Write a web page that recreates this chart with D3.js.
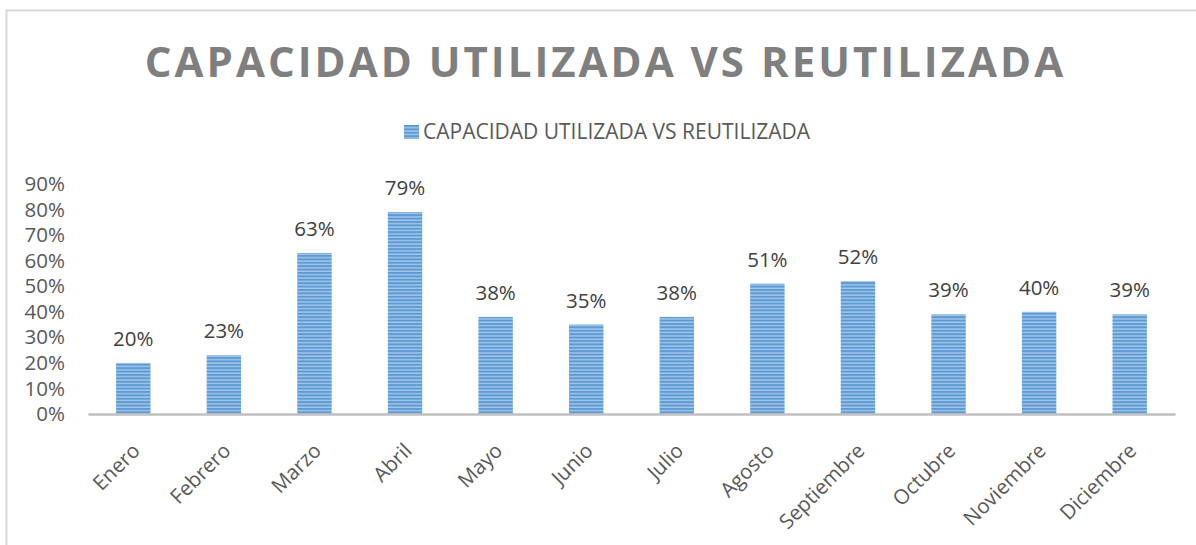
<!DOCTYPE html>
<html>
<head>
<meta charset="utf-8">
<script src="https://cdn.jsdelivr.net/npm/d3@7"></script>
<style>
  body { margin: 0; background: #fff; }
  svg { display: block; font-family: "Open Sans", sans-serif; }
</style>
</head>
<body>
<svg id="chart" width="1196" height="545"></svg>
<script>
const width = 1196;
const height = 545;

// Data
const months = ['Enero', 'Febrero', 'Marzo', 'Abril', 'Mayo', 'Junio', 'Julio', 'Agosto', 'Septiembre', 'Octubre', 'Noviembre', 'Diciembre'];
const values = [0.20, 0.23, 0.63, 0.79, 0.38, 0.35, 0.38, 0.51, 0.52, 0.39, 0.40, 0.39];
const yTicks = [0, 0.1, 0.2, 0.3, 0.4, 0.5, 0.6, 0.7, 0.8, 0.9];
const seriesName = 'CAPACIDAD UTILIZADA VS REUTILIZADA';
const chartTitle = 'CAPACIDAD UTILIZADA VS REUTILIZADA';

const svg = d3.select('#chart');
const margin = { top: 184, right: 21, bottom: 131, left: 88 };

// striped fill for the bars
const defs = svg.append('defs');
const pat = defs.append('pattern')
  .attr('id', 'stripes')
  .attr('patternUnits', 'userSpaceOnUse')
  .attr('width', 6).attr('height', 3.4);
pat.append('rect').attr('width', 6).attr('height', 3.4).attr('fill', '#a7c6e8');
pat.append('rect').attr('width', 6).attr('height', 2).attr('fill', '#5b9bd5');

// outer frame
svg.append('rect')
  .attr('x', 6.5).attr('y', 10.5)
  .attr('width', width + 20).attr('height', height + 20)
  .attr('fill', 'none')
  .attr('stroke', '#d9d9d9')
  .attr('stroke-width', 2);

// Title
svg.append('text')
  .attr('x', 605.5).attr('y', 77)
  .attr('text-anchor', 'middle')
  .attr('font-size', 42)
  .attr('font-weight', 700)
  .attr('letter-spacing', 3)
  .attr('fill', '#7f7f7f')
  .text(chartTitle);

// Legend
const legend = svg.append('g').attr('transform', 'translate(404,125)');
legend.append('rect')
  .attr('width', 15).attr('height', 14)
  .attr('fill', 'url(#stripes)');
legend.append('text')
  .attr('x', 19).attr('y', 14)
  .attr('font-size', 21)
  .attr('fill', '#595959')
  .text(seriesName);

const x = d3.scaleBand()
  .domain(months)
  .range([margin.left, width - margin.right])
  .paddingInner(0.62)
  .paddingOuter(0.31);

const y = d3.scaleLinear()
  .domain([0, 0.9])
  .range([height - margin.bottom, margin.top]);

// Y axis labels
const yAxis = d3.axisLeft(y)
  .tickValues(yTicks)
  .tickFormat(d3.format('.0%'))
  .tickSize(0)
  .tickPadding(0);

svg.append('g')
  .attr('transform', 'translate(65,0)')
  .call(yAxis)
  .call(g => g.select('.domain').remove())
  .selectAll('text')
  .attr('font-size', 20.5)
  .attr('font-family', '"Open Sans", sans-serif')
  .attr('fill', '#595959');

// Bars
svg.append('g')
  .selectAll('rect')
  .data(values)
  .enter().append('rect')
  .attr('x', (d, i) => x(months[i]))
  .attr('y', d => y(d))
  .attr('width', x.bandwidth())
  .attr('height', d => y(0) - y(d))
  .attr('fill', 'url(#stripes)');

// Data labels
svg.append('g')
  .selectAll('text')
  .data(values)
  .enter().append('text')
  .attr('x', (d, i) => x(months[i]) + x.bandwidth() / 2)
  .attr('y', d => y(d) - 17)
  .attr('text-anchor', 'middle')
  .attr('font-size', 20.5)
  .attr('fill', '#404040')
  .text(d => d3.format('.0%')(d));

// X axis
const xAxis = d3.axisBottom(x).tickSize(0).tickPadding(0);
svg.append('g')
  .attr('transform', `translate(0,${y(0)})`)
  .call(xAxis)
  .call(g => g.select('.domain')
    .attr('stroke', '#bfbfbf')
    .attr('stroke-width', 2.5))
  .selectAll('text')
  .attr('font-size', 20.5)
  .attr('font-family', '"Open Sans", sans-serif')
  .attr('fill', '#595959')
  .attr('text-anchor', 'end')
  .attr('dy', null)
  .attr('transform', 'translate(8,38) rotate(-45)');
</script>
</body>
</html>
